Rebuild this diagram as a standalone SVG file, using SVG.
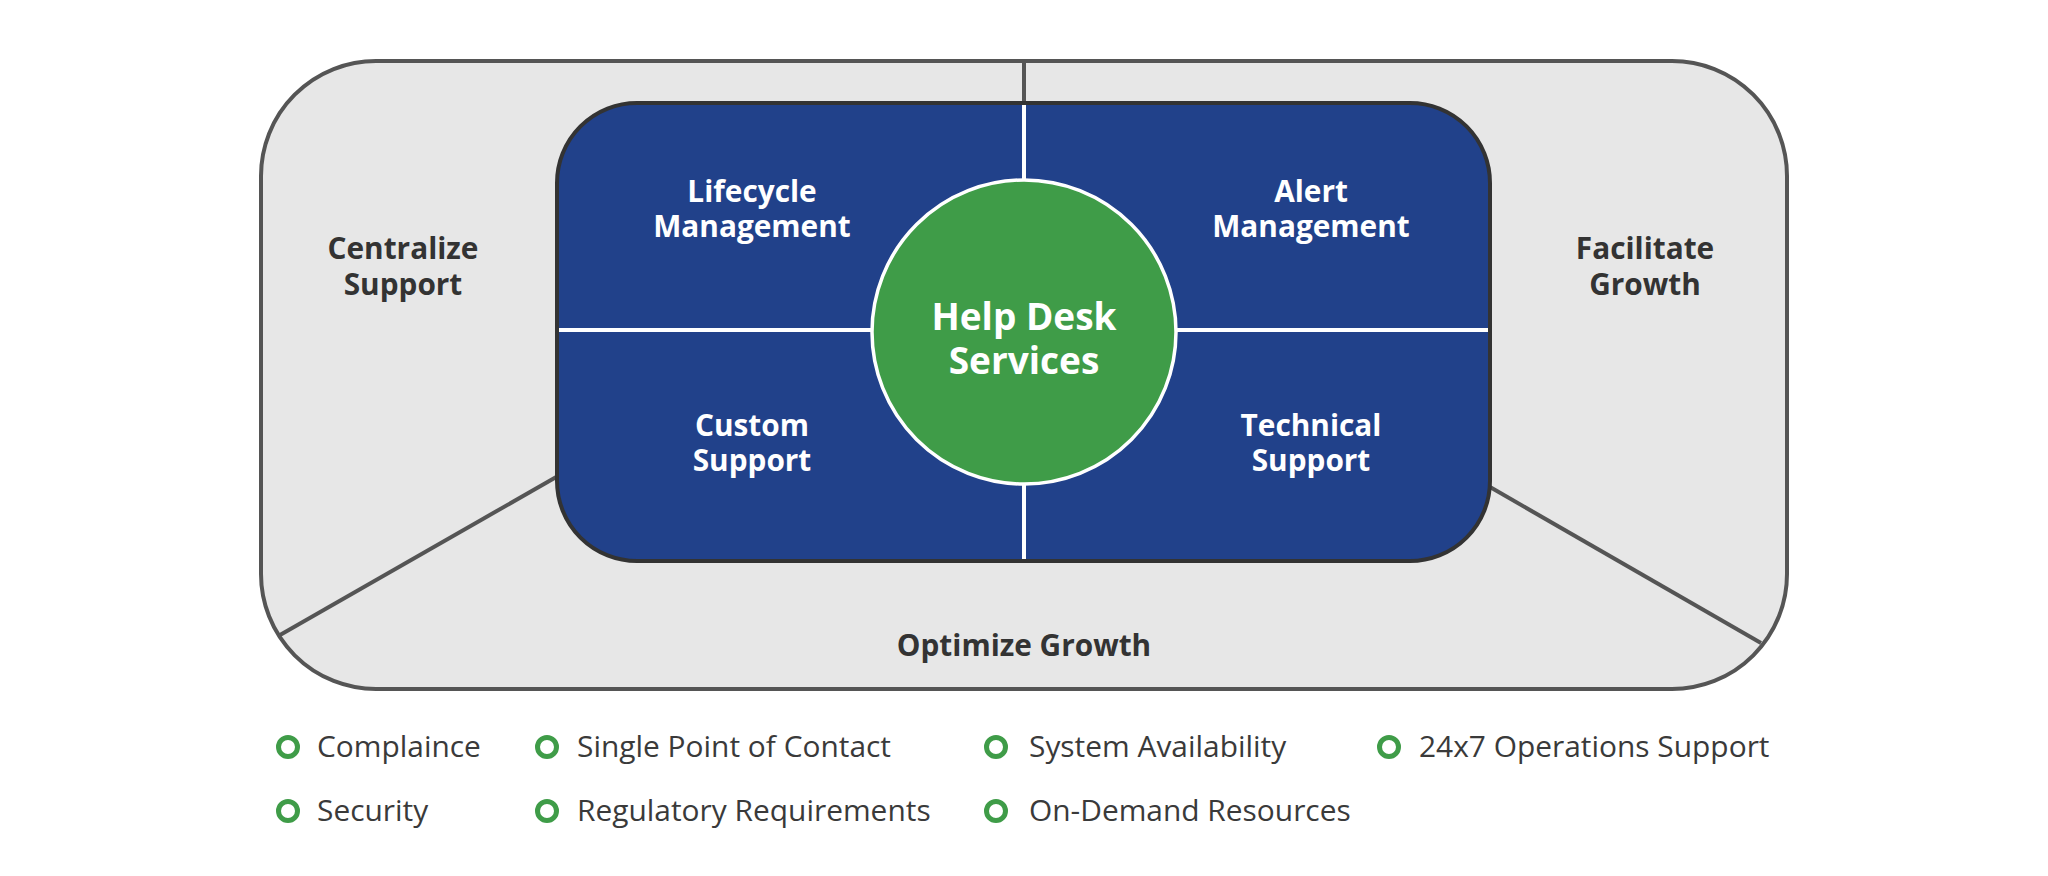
<svg xmlns="http://www.w3.org/2000/svg" width="2048" height="876" viewBox="0 0 2048 876">
<style>
.bold{font-family:"Open Sans","Noto Sans","Liberation Sans",sans-serif;font-weight:700;font-size:29.8px;text-anchor:middle}
.dark{fill:#333333}
.white{fill:#ffffff}
.big{font-size:37px}
.leg{font-family:"Open Sans","Noto Sans","Liberation Sans",sans-serif;font-weight:400;font-size:29.9px;fill:#3a3a3a}
.gline{stroke:#555555;stroke-width:4;fill:none}
.wline{stroke:#ffffff;stroke-width:4;fill:none}
.dot{fill:none;stroke:#3f9c48;stroke-width:5}
</style>
<rect width="2048" height="876" fill="#ffffff"/>
<g id="outer">
<rect x="261" y="61" width="1526" height="628" rx="115" ry="115" fill="#e7e7e7" stroke="#555555" stroke-width="4"/>
</g>
<g id="connectors">
<line class="gline" x1="1024" y1="61" x2="1024" y2="104"/>
<line class="gline" x1="558" y1="476" x2="280" y2="635"/>
<line class="gline" x1="1490" y1="487" x2="1761" y2="643"/>
</g>
<g id="inner">
<rect x="557" y="103" width="933" height="458" rx="80" ry="80" fill="#21418a" stroke="#333333" stroke-width="4"/>
<line class="wline" x1="559" y1="330" x2="1488" y2="330"/>
<line class="wline" x1="1024" y1="105" x2="1024" y2="559"/>
</g>
<g id="centralize-support">
<text class="bold dark" x="403" y="259"><tspan x="403">Centralize</tspan><tspan x="403" dy="36">Support</tspan></text>
</g>
<g id="facilitate-growth">
<text class="bold dark" x="1645" y="259"><tspan x="1645">Facilitate</tspan><tspan x="1645" dy="36">Growth</tspan></text>
</g>
<g id="optimize-growth">
<text class="bold dark" x="1024" y="656">Optimize Growth</text>
</g>
<g id="lifecycle-management">
<text class="bold white" x="752" y="202"><tspan x="752">Lifecycle</tspan><tspan x="752" dy="35">Management</tspan></text>
</g>
<g id="alert-management">
<text class="bold white" x="1311" y="202"><tspan x="1311">Alert</tspan><tspan x="1311" dy="35">Management</tspan></text>
</g>
<g id="custom-support">
<text class="bold white" x="752" y="436"><tspan x="752">Custom</tspan><tspan x="752" dy="35">Support</tspan></text>
</g>
<g id="technical-support">
<text class="bold white" x="1311" y="436"><tspan x="1311">Technical</tspan><tspan x="1311" dy="35">Support</tspan></text>
</g>
<g id="help-desk-services">
<circle cx="1024" cy="332" r="152" fill="#3f9c48" stroke="#ffffff" stroke-width="3.5"/>
<text class="bold white big" x="1024" y="330"><tspan x="1024">Help Desk</tspan><tspan x="1024" dy="44">Services</tspan></text>
</g>
<g id="legend">
<g id="leg-complaince"><circle class="dot" cx="288" cy="747" r="9.5"/><text class="leg" x="317" y="757">Complaince</text></g>
<g id="leg-single-point"><circle class="dot" cx="547" cy="747" r="9.5"/><text class="leg" x="577" y="757">Single Point of Contact</text></g>
<g id="leg-system-availability"><circle class="dot" cx="996" cy="747" r="9.5"/><text class="leg" x="1029" y="757">System Availability</text></g>
<g id="leg-24x7"><circle class="dot" cx="1389" cy="747" r="9.5"/><text class="leg" x="1419" y="757">24x7 Operations Support</text></g>
<g id="leg-security"><circle class="dot" cx="288" cy="811" r="9.5"/><text class="leg" x="317" y="821">Security</text></g>
<g id="leg-regulatory"><circle class="dot" cx="547" cy="811" r="9.5"/><text class="leg" x="577" y="821">Regulatory Requirements</text></g>
<g id="leg-on-demand"><circle class="dot" cx="996" cy="811" r="9.5"/><text class="leg" x="1029" y="821">On-Demand Resources</text></g>
</g>
</svg>
